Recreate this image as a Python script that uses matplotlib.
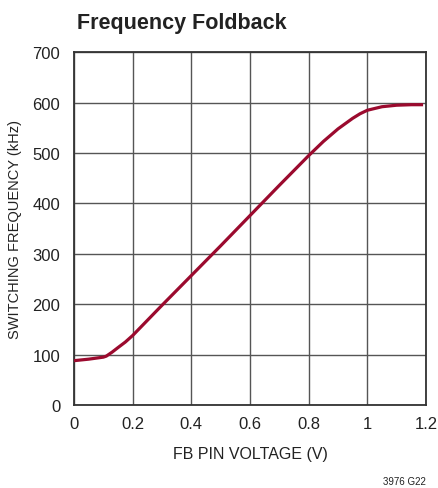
import numpy as np
import matplotlib
matplotlib.use("Agg")
import matplotlib.pyplot as plt

# FB pin voltage (V) vs switching frequency (kHz)
fb_voltage = [0.0, 0.05, 0.1, 0.11, 0.13, 0.15, 0.175, 0.2, 0.3, 0.4, 0.5,
              0.6, 0.7, 0.8, 0.85, 0.9, 0.95, 0.975, 1.0, 1.05, 1.1, 1.15, 1.19]
sw_freq = [88, 91, 95, 97, 105, 114, 125, 138, 198, 257, 316,
           376, 436, 495, 523, 548, 569, 578, 585, 592, 595, 596, 596]

x_ticks = [0, 0.2, 0.4, 0.6, 0.8, 1.0, 1.2]
x_tick_labels = ["0", "0.2", "0.4", "0.6", "0.8", "1", "1.2"]
y_ticks = [0, 100, 200, 300, 400, 500, 600, 700]

plt.rcParams["font.family"] = ["Liberation Sans", "DejaVu Sans"]

fig = plt.figure(figsize=(4.39, 4.89), dpi=100)
ax = fig.add_axes([0.1686, 0.1697, 0.8018, 0.7213])

ax.plot(fb_voltage, sw_freq, color="#9b0a2e", linewidth=2.3,
        solid_capstyle="butt", solid_joinstyle="round", zorder=3)

ax.set_xlim(0, 1.2)
ax.set_ylim(0, 700)
ax.set_xticks(x_ticks)
ax.set_xticklabels(x_tick_labels)
ax.set_yticks(y_ticks)
ax.grid(True, color="#555555", linewidth=1.0)
ax.tick_params(length=0, labelsize=12, colors="#222222")
ax.tick_params(axis="y", pad=10)
ax.tick_params(axis="x", pad=8)
for sp in ax.spines.values():
    sp.set_color("#333333")
    sp.set_linewidth(1.3)

ax.set_xlabel("FB PIN VOLTAGE (V)", fontsize=11.5, color="#222222")
ax.set_ylabel("SWITCHING FREQUENCY (kHz)", fontsize=10.5, color="#222222")
ax.xaxis.set_label_coords(0.5, -0.115)
ax.yaxis.set_label_coords(-0.148, 0.5)

fig.text(0.175, 0.952, "Frequency Foldback", fontsize=15.5, fontweight="bold",
         color="#222222", va="center", ha="left")
fig.text(0.97, 0.004, "3976 G22", fontsize=7, color="#222222", ha="right", va="bottom")

fig.savefig("out.png", dpi=100)
